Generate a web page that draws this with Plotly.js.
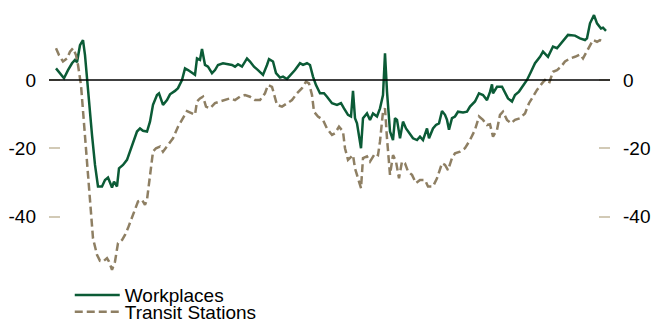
<!DOCTYPE html>
<html>
<head>
<meta charset="utf-8">
<script src="https://cdn.plot.ly/plotly-3.0.1.min.js"></script>
<style>html,body{margin:0;padding:0;background:#fff;}#chart{width:655px;height:323px;}</style>
</head>
<body>
<div id="chart"></div>
<script>
// Day index (relative)
const workplacesX = [1,5,9,13,17,20,22,25,28,30,32,34,37,40,43,47,50,53,57,59,62,64,68,72,75,78,82,85,88,92,95,98,102,104,108,112,115,120,123,127,130,133,137,140,142,145,147,150,153,157,160,163,168,173,177,180,183,187,192,195,199,203,208,212,214,218,221,225,228,232,236,240,245,248,252,255,258,261,265,269,272,277,282,286,289,293,296,298,300,302,306,308,312,315,318,322,325,328,330,332,335,338,340,342,345,348,351,354,358,362,365,368,372,374,378,381,384,387,390,392,394,397,400,403,408,412,415,420,424,428,432,435,437,438,442,447,450,453,457,460,464,468,472,476,480,485,488,493,498,502,507,513,520,525,530,532,535,539,542,546,548,551];
const workplaces = [3.4,2.0,0.5,2.9,4.9,5.9,5.2,10.2,11.7,7.3,0,-7.3,-16.1,-24.9,-31.2,-31.2,-29.3,-28.6,-31.5,-29.8,-31.2,-25.9,-24.9,-23.4,-21.0,-18.1,-15.1,-14.2,-14.9,-15.1,-12.2,-7.3,-4.4,-3.9,-7.3,-5.9,-4.2,-3.2,-2.4,0,3.4,2.9,2.0,1.5,6.3,5.9,9.1,4.4,3.9,2.0,2.9,4.4,4.9,4.6,4.4,3.9,4.6,3.9,6.3,5.4,3.9,2.9,1.5,4.4,6.1,5.4,2.0,0.7,1.0,0.3,1.5,2.9,4.9,4.4,4.9,4.4,1.0,-1.5,-3.9,-3.9,-4.9,-6.8,-7.3,-6.8,-8.3,-10.2,-10.7,-3.2,-11.2,-12.7,-20,-11.2,-9.8,-11.7,-9.8,-10.7,-8.3,-4.4,7.8,-3.4,-15.1,-17.6,-11.2,-11.7,-17.1,-12.2,-14.2,-15.6,-17.1,-17.6,-16.6,-17.6,-14.2,-17.1,-14.2,-13.2,-12.7,-9.1,-10.2,-11.7,-14.6,-11.2,-10.7,-9.3,-9.5,-9.3,-7.8,-6.3,-3.9,-4.4,-5.9,-3.5,-1.3,-3.9,-2.0,-2.0,-3.9,-5.4,-6.3,-4.4,-3.4,-1.5,0,2.4,4.9,6.8,8.3,6.8,9.8,9.3,11.2,13.2,13.0,12.2,11.7,12.2,16.6,19.0,16.6,15.1,15.3,14.4];

const transitX = [1,4,8,12,15,18,21,23,26,28,31,33,36,38,42,45,48,52,54,57,60,63,67,70,73,77,80,83,87,90,92,95,98,101,105,108,113,118,123,128,132,137,140,142,145,148,151,155,160,165,170,175,180,185,190,195,200,205,210,213,217,219,222,227,232,237,242,247,251,254,257,259,263,268,272,277,280,284,288,290,293,298,300,303,306,308,312,315,320,323,325,328,330,332,335,338,341,344,347,350,353,357,361,365,370,373,378,382,387,390,393,397,400,405,410,415,420,424,428,432,435,438,442,445,448,452,456,460,465,470,474,478,482,487,490,494,498,502,506,510,515,520,525,528,532,535,538,542,545,549];
const transit = [9.3,7.3,5.4,6.3,8.3,9.3,7.3,4.4,-1.5,-9.3,-19,-28.8,-38.6,-46.4,-51.2,-53,-53.2,-52.2,-53.2,-55.6,-53.2,-47.8,-46.9,-45.4,-43.4,-40.5,-38.1,-35.6,-35.1,-36.6,-35.1,-28.8,-21.0,-20.0,-19.5,-21,-19.0,-17.1,-13.7,-11.2,-9.1,-9.8,-10.2,-6.3,-5.4,-4.9,-7.8,-8.3,-6.8,-6.3,-5.9,-5.4,-5.9,-4.9,-4.4,-4.9,-5.9,-5.9,-3.9,-1.5,-2.0,-3.9,-7.3,-7.8,-6.8,-5.9,-3.9,-2.4,-0.5,-1.0,-4.4,-9.3,-10.7,-11.7,-14.2,-16.1,-15.6,-13.7,-15.1,-20,-23.4,-22.0,-25.9,-28.8,-31.7,-22.9,-22.4,-23.9,-21.5,-22.0,-18,-9.3,-8.3,-17.1,-27.8,-22.0,-23.9,-28.8,-23.9,-24.4,-26.8,-27.8,-30.2,-29.3,-29.3,-31.2,-31.2,-28.8,-24.4,-24.9,-26.4,-22.9,-21.5,-21.0,-20,-17.6,-14.6,-10.7,-11.7,-13.2,-13.0,-16.6,-14.6,-10.2,-9.3,-11.7,-12.7,-11.7,-11.2,-9.8,-6.8,-4.9,-2.9,-1.0,0,-1.0,2.4,2.9,3.9,5.4,6.3,6.8,7.5,6.3,8.3,10.2,11.7,11.2,11.7,11.2];

const tickVals = [0, -20, -40];
const tickText = ['0', '-20', '-40'];
const seriesNames = ['Workplaces', 'Transit Stations'];

const font = 'Liberation Sans, Arial, sans-serif';

const data = [
  {x: workplacesX, y: workplaces, name: seriesNames[0], type: 'scatter', mode: 'lines',
   line: {color: '#0b5b36', width: 2.5}, legend: 'legend'},
  {x: transitX, y: transit, name: seriesNames[1], type: 'scatter', mode: 'lines', yaxis: 'y2',
   line: {color: '#8e7f63', width: 2.5, dash: '8px,4px'}, legend: 'legend2'}
];

const yRange = [-58.6, 20.5];
const axisCommon = {range: yRange, tickvals: tickVals, ticktext: tickText, ticks: 'inside', ticklen: 11, tickwidth: 2,
  tickcolor: '#d2cab6', showgrid: false, showline: false, ticklabelstandoff: 12,
  tickfont: {family: font, size: 19, color: '#000'}};
const legendCommon = {xanchor: 'left', yanchor: 'middle', orientation: 'v', itemwidth: 45,
  font: {family: font, size: 19, color: '#000'}, bgcolor: 'rgba(0,0,0,0)', borderwidth: 0};

const layout = {
  width: 655, height: 323,
  margin: {l: 49, r: 45, t: 10, b: 43, autoexpand: false},
  paper_bgcolor: '#fff', plot_bgcolor: '#fff',
  showlegend: true,
  font: {family: font, size: 19, color: '#000'},
  xaxis: {range: [-6, 555], visible: false, showgrid: false, zeroline: false},
  yaxis: Object.assign({}, axisCommon, {zeroline: false}),
  yaxis2: Object.assign({}, axisCommon, {overlaying: 'y', side: 'right', zeroline: false}),
  shapes: [{type: 'line', xref: 'paper', yref: 'y', x0: 0, x1: 1, y0: 0, y1: 0, layer: 'above',
            line: {color: '#000', width: 1.5}}],
  legend: Object.assign({}, legendCommon, {x: 0.037, y: -0.056}),
  legend2: Object.assign({}, legendCommon, {x: 0.037, y: -0.118})
};

Plotly.newPlot('chart', data, layout, {staticPlot: true, displayModeBar: false});
</script>
</body>
</html>
